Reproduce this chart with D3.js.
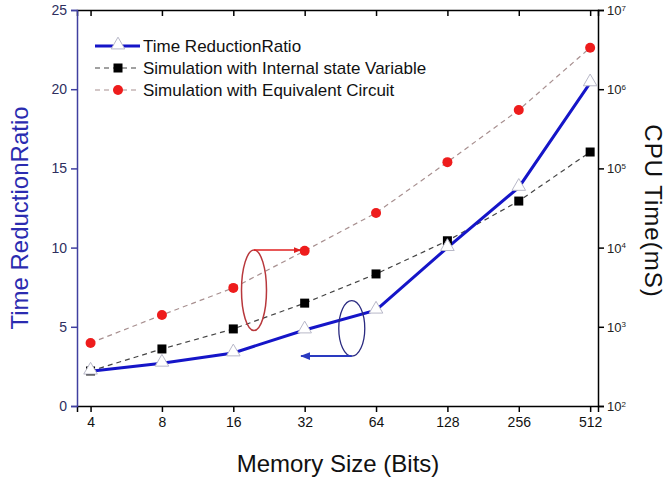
<!DOCTYPE html>
<html>
<head>
<meta charset="utf-8">
<script src="https://cdn.jsdelivr.net/npm/d3@7"></script>
<style>
  html, body { margin: 0; padding: 0; background: #fff; }
  svg { display: block; font-family: Arial, "Liberation Sans", sans-serif; }
</style>
</head>
<body>
<svg id="chart" width="666" height="478"></svg>
<script>
// Memory sizes (bits) on the category axis
const memorySizes = ["4", "8", "16", "32", "64", "128", "256", "512"];
// Left axis: ratio of CPU times
const timeReductionRatio = [2.2, 2.7, 3.35, 4.8, 6.05, 10.0, 13.8, 20.4];
// Right axis: CPU time in ms
const cpuInternalState = [277, 525, 940, 1990, 4650, 12200, 38700, 161000];
const cpuEquivalentCircuit = [625, 1410, 3100, 9100, 27400, 120000, 546000, 3340000];
// Axis ticks
const leftTicks = [0, 5, 10, 15, 20, 25];
const rightExponents = [2, 3, 4, 5, 6, 7];
const legendLabels = [
  "Time ReductionRatio",
  "Simulation with Internal state Variable",
  "Simulation with Equivalent Circuit"
];

const svg = d3.select("#chart");
const plotL = 77, plotR = 598, plotT = 10, plotB = 406;

const x = d3.scaleLinear().domain([-0.19, 7.11]).range([plotL, plotR]);
const yL = d3.scaleLinear().domain([0, 25]).range([plotB, plotT]);
const yR = d3.scaleLog().domain([1e2, 1e7]).range([plotB, plotT]);

// Frame: bottom / top / right black, left blue
const gx = svg.append("g").attr("transform", `translate(0,${plotB})`)
  .call(d3.axisBottom(x).tickValues(d3.range(memorySizes.length))
    .tickFormat(i => memorySizes[i]).tickSizeOuter(0).tickSize(6).tickPadding(5));
gx.select(".domain").attr("stroke", "#000").attr("stroke-width", 1.5);
gx.selectAll(".tick line").attr("stroke", "#000").attr("stroke-width", 1.5);
gx.selectAll(".tick text").attr("font-size", 14).attr("fill", "#111");

const gt = svg.append("g").attr("transform", `translate(0,${plotT})`)
  .call(d3.axisTop(x).tickValues(d3.range(memorySizes.length))
    .tickFormat("").tickSizeOuter(0).tickSize(-6));
gt.select(".domain").attr("stroke", "#000").attr("stroke-width", 1.5);
gt.selectAll(".tick line").attr("stroke", "#000").attr("stroke-width", 1.5);

const gl = svg.append("g").attr("transform", `translate(${plotL},0)`)
  .call(d3.axisLeft(yL).tickValues(leftTicks).tickSizeOuter(0).tickSize(6).tickPadding(4));
gl.select(".domain").attr("stroke", "#4040a0").attr("stroke-width", 1.5);
gl.selectAll(".tick line").attr("stroke", "#4040a0").attr("stroke-width", 1.5);
gl.selectAll(".tick text").attr("font-size", 14).attr("fill", "#2e2e5e");

const gr = svg.append("g").attr("transform", `translate(${plotR},0)`)
  .call(d3.axisRight(yR).tickValues(rightExponents.map(e => Math.pow(10, e)))
    .tickFormat("").tickSizeOuter(0).tickSize(6));
gr.select(".domain").attr("stroke", "#000").attr("stroke-width", 1.5);
gr.selectAll(".tick line").attr("stroke", "#000").attr("stroke-width", 1.5);
gr.selectAll(".tick").each(function(d) {
  const t = d3.select(this).append("text").attr("x", 9).attr("dy", "0.35em")
    .attr("fill", "#222").attr("font-size", 13);
  t.append("tspan").text("10");
  t.append("tspan").attr("dy", "-0.55em").attr("font-size", 8)
    .text(Math.round(Math.log10(d)));
});

// Axis titles
svg.append("text").attr("x", 338).attr("y", 472)
  .attr("text-anchor", "middle").attr("font-size", 24).attr("fill", "#111")
  .text("Memory Size (Bits)");
svg.append("text").attr("transform", "translate(28,218) rotate(-90)")
  .attr("text-anchor", "middle").attr("font-size", 24).attr("fill", "#2b2bb0")
  .text("Time ReductionRatio");
svg.append("text").attr("transform", "translate(645,211) rotate(90)")
  .attr("text-anchor", "middle").attr("font-size", 24).attr("letter-spacing", 1)
  .attr("fill", "#111")
  .text("CPU Time(mS)");

// Series lines
const redLine = d3.line().x((d, i) => x(i)).y(d => yR(d));
const blkLine = d3.line().x((d, i) => x(i)).y(d => yR(d));
const blueLine = d3.line().x((d, i) => x(i)).y(d => yL(d));

svg.append("path").datum(cpuEquivalentCircuit).attr("d", redLine)
  .attr("fill", "none").attr("stroke", "#a89090").attr("stroke-width", 1.2)
  .attr("stroke-dasharray", "5,4");
svg.append("path").datum(cpuInternalState).attr("d", blkLine)
  .attr("fill", "none").attr("stroke", "#444").attr("stroke-width", 1.2)
  .attr("stroke-dasharray", "5,4");
svg.append("path").datum(timeReductionRatio).attr("d", blueLine)
  .attr("fill", "none").attr("stroke", "#1515c8").attr("stroke-width", 3);

// Markers
const sq = 9;
svg.append("g").selectAll("rect").data(cpuInternalState).join("rect")
  .attr("x", (d, i) => x(i) - sq / 2).attr("y", d => yR(d) - sq / 2)
  .attr("width", sq).attr("height", sq).attr("fill", "#000");
svg.append("g").selectAll("circle").data(cpuEquivalentCircuit).join("circle")
  .attr("cx", (d, i) => x(i)).attr("cy", d => yR(d)).attr("r", 5).attr("fill", "#ee1c1c");
const tri = d3.symbol().type(d3.symbolTriangle).size(80);
svg.append("g").selectAll("path").data(timeReductionRatio).join("path")
  .attr("d", tri).attr("transform", (d, i) => `translate(${x(i)},${yL(d) - 1})`)
  .attr("fill", "#fff").attr("stroke", "#b8b8c8").attr("stroke-width", 1);

// Annotations: ellipses pointing each group of curves to its axis
const defs = svg.append("defs");
function arrowHead(id, color) {
  defs.append("marker").attr("id", id).attr("viewBox", "0 0 10 10")
    .attr("refX", 9).attr("refY", 5).attr("markerWidth", 5).attr("markerHeight", 5)
    .attr("orient", "auto")
    .append("path").attr("d", "M0,1 L10,5 L0,9 Z").attr("fill", color);
}
arrowHead("arrRed", "#e02020");
arrowHead("arrBlue", "#2a3ac0");

// red: circles the CPU-time curves, points right
const redNote = { i: 2.29, topVal: 9300, botVal: 900, toI: 3.0 };
const ry1 = yR(redNote.topVal), ry2 = yR(redNote.botVal);
svg.append("ellipse").attr("cx", x(redNote.i)).attr("cy", (ry1 + ry2) / 2)
  .attr("rx", 12.5).attr("ry", (ry2 - ry1) / 2)
  .attr("fill", "none").attr("stroke", "#b8383c").attr("stroke-width", 1.5);
svg.append("path").attr("d", `M${x(redNote.i)},${ry1} H${x(redNote.toI) - 4}`)
  .attr("stroke", "#e02020").attr("stroke-width", 1.5).attr("fill", "none")
  .attr("marker-end", "url(#arrRed)");

// blue: circles the ratio curve, points left
const blueNote = { i: 3.66, topVal: 6.65, botVal: 3.15, toI: 2.95 };
const by1 = yL(blueNote.topVal), by2 = yL(blueNote.botVal);
svg.append("ellipse").attr("cx", x(blueNote.i)).attr("cy", (by1 + by2) / 2)
  .attr("rx", 13).attr("ry", (by2 - by1) / 2)
  .attr("fill", "none").attr("stroke", "#2a2a80").attr("stroke-width", 1.3);
svg.append("path").attr("d", `M${x(blueNote.i)},${by2} H${x(blueNote.toI)}`)
  .attr("stroke", "#2a3ac0").attr("stroke-width", 2).attr("fill", "none")
  .attr("marker-end", "url(#arrBlue)");

// Legend
const lg = svg.append("g");
const rows = [46, 68, 90];
const lx0 = 95, lx1 = 140, lmid = 118, ltx = 143;
// row 1: blue solid with triangle
lg.append("line").attr("x1", lx0).attr("x2", lx1).attr("y1", rows[0]).attr("y2", rows[0])
  .attr("stroke", "#1515c8").attr("stroke-width", 3);
lg.append("path").attr("d", tri).attr("transform", `translate(${lmid},${rows[0] - 1})`)
  .attr("fill", "#fff").attr("stroke", "#b8b8c8");
// row 2: black dashed with square
lg.append("line").attr("x1", lx0).attr("x2", lx1).attr("y1", rows[1]).attr("y2", rows[1])
  .attr("stroke", "#444").attr("stroke-width", 1.2).attr("stroke-dasharray", "5,4");
lg.append("rect").attr("x", lmid - sq / 2).attr("y", rows[1] - sq / 2)
  .attr("width", sq).attr("height", sq).attr("fill", "#000");
// row 3: grey dashed with red circle
lg.append("line").attr("x1", lx0).attr("x2", lx1).attr("y1", rows[2]).attr("y2", rows[2])
  .attr("stroke", "#a89090").attr("stroke-width", 1.2).attr("stroke-dasharray", "5,4");
lg.append("circle").attr("cx", lmid).attr("cy", rows[2]).attr("r", 5).attr("fill", "#ee1c1c");
lg.selectAll("text").data(legendLabels).join("text")
  .attr("x", ltx).attr("y", (d, i) => rows[i]).attr("dy", "0.35em")
  .attr("font-size", 17).attr("fill", "#111").text(d => d);
</script>
</body>
</html>
